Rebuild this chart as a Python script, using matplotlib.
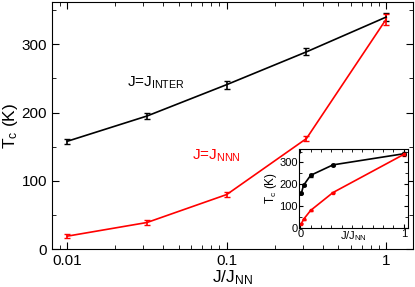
import numpy as np
import matplotlib
matplotlib.use('Agg')
from matplotlib import pyplot as plt
from matplotlib.ticker import MultipleLocator

plt.rcParams['font.family'] = ['Liberation Sans', 'DejaVu Sans']
plt.rcParams['mathtext.default'] = 'regular'

# data
j_ratio = [0.01, 0.0316, 0.1, 0.316, 1.0]
tc_inter = [158, 195, 241, 289, 340]
err_inter = [4, 4, 6, 5, 6]
tc_nnn = [19, 39, 80, 162, 337]
err_nnn = [3, 3, 3, 3, 8]

fig = plt.figure(figsize=(4.15, 2.87), dpi=100)
ax = fig.add_axes([0.125, 0.132, 0.870, 0.861])

ax.errorbar(j_ratio, tc_inter, yerr=err_inter, color='k', lw=1.2, capsize=2.5, elinewidth=1.2)
ax.errorbar(j_ratio, tc_nnn, yerr=err_nnn, color='#ff0000', lw=1.2, capsize=2.5, elinewidth=1.2)
ax.set_xscale('log')
ax.set_xlim(0.008, 1.47)
ax.set_ylim(0, 362)
ax.yaxis.set_major_locator(MultipleLocator(100))
ax.yaxis.set_minor_locator(MultipleLocator(50))
ax.set_xticks([0.01, 0.1, 1])
ax.set_xticklabels(['0.01', '0.1', '1'])
ax.tick_params(which='both', direction='in', top=True, right=True, labelsize=11)
ax.tick_params(which='major', length=5)
ax.tick_params(which='minor', length=3)
ax.set_xlabel('J/J$_{NN}$', fontsize=12.5, labelpad=0)
ax.set_ylabel('T$_c$ (K)', fontsize=12.5, labelpad=1)

ax.text(0.0359, 244, 'J=J$_{INTER}$', fontsize=11, color='k', ha='center', va='center')
ax.text(0.0857, 137, 'J=J$_{NNN}$', fontsize=11, color='#ff0000', ha='center', va='center')

# inset on a linear scale
ins = fig.add_axes([0.721, 0.206, 0.262, 0.275])
ins.errorbar(j_ratio, tc_inter, yerr=err_inter, color='k', lw=1.2, marker='o', ms=2.5, capsize=1.5)
ins.errorbar(j_ratio, tc_nnn, yerr=err_nnn, color='#ff0000', lw=1.2, marker='s', ms=2, capsize=1.5)
ins.set_xlim(-0.01, 1.04)
ins.set_ylim(0, 362)
ins.xaxis.set_major_locator(MultipleLocator(1))
ins.xaxis.set_minor_locator(MultipleLocator(0.1))
ins.yaxis.set_major_locator(MultipleLocator(100))
ins.yaxis.set_minor_locator(MultipleLocator(50))
ins.tick_params(which='both', direction='in', top=True, right=True, labelsize=8, pad=1)
ins.tick_params(which='major', length=3)
ins.tick_params(which='minor', length=2)
ins.set_xlabel('J/J$_{NN}$', fontsize=8, labelpad=-7)
ins.set_ylabel('T$_c$ (K)', fontsize=8.5, labelpad=0)

plt.savefig('out.png', dpi=100)
